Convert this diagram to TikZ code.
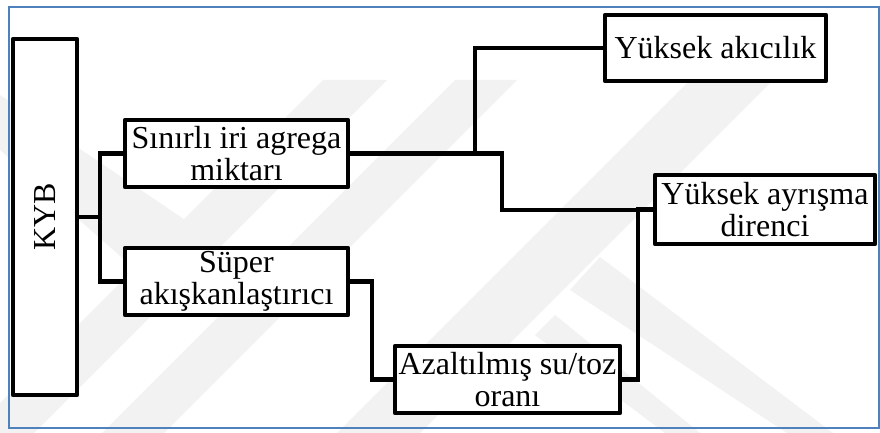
\documentclass[tikz,border=0pt]{standalone}
\usepackage{fontspec}
\setmainfont{Liberation Serif}
\usepackage{graphicx}
\definecolor{frameblue}{RGB}{79,129,189}
\definecolor{wm}{RGB}{242,242,242}
\begin{document}
\begin{tikzpicture}[x=1pt,y=-1pt,
  box/.style={draw=black, line width=4.5pt, fill=white, inner sep=0pt, align=center,
    font=\fontsize{32}{32}\selectfont, line join=round},
  link/.style={draw=black, line width=4.5pt, line join=miter}]
\useasboundingbox (0,0) rectangle (880,433);
\fill[white] (0,0) rectangle (880,433);
% faint background watermark
\fill[wm] (0,95) -- (0,150) -- (170,300) -- (200,230) -- cycle;
\fill[wm] (323,80) -- (387,80) -- (34,433) -- (-30,433) -- cycle;
\fill[wm] (455,80) -- (517,80) -- (164,433) -- (102,433) -- cycle;
\fill[wm] (690,80) -- (773,80) -- (420,433) -- (337,433) -- cycle;
\fill[wm] (600,257) -- (833,433) -- (787,433) -- (570,290) -- cycle;
\fill[wm] (555,315) -- (700,433) -- (665,433) -- (535,335) -- cycle;
% frame
\draw[frameblue, line width=1.5pt] (9,7) rectangle (879,428);
% boxes
\node[box, minimum width=64pt, minimum height=356pt] (kyb) at (45,217) {\rotatebox{90}{KYB}};
\node[box, minimum width=223pt, minimum height=67pt] (sin) at (236.5,153.5) {Sınırlı iri agrega\\miktarı};
\node[box, minimum width=223pt, minimum height=67pt] (sup) at (236.5,281.5) {Süper\\akışkanlaştırıcı};
\node[box, minimum width=225pt, minimum height=67pt] (aza) at (507.5,379.5) {Azaltılmış su/toz\\oranı};
\node[box, minimum width=221pt, minimum height=66pt] (yak) at (715.5,48) {Yüksek akıcılık};
\node[box, minimum width=220pt, minimum height=69pt] (yay) at (765,209.5) {Yüksek ayrışma\\direnci};
% junction points
\coordinate (j1) at (100,217);
\coordinate (b1) at (475,153.5);
\coordinate (c1) at (502,210);
\coordinate (c2) at (638,210);
\coordinate (c3) at (372,330);
\coordinate (c4) at (638,300);
% connectors
\draw[link] (kyb.east) -- (j1);
\draw[link] (sin.west) -| (j1) |- (sup.west);
\draw[link] (sin.east) -| (c1) -- (c2);
\draw[link] (b1) |- (yak.west);
\draw[link] (sup.east) -| (c3) |- (aza.west);
\draw[link] (aza.east) -| (c4) |- (yay.west);
\end{tikzpicture}
\end{document}
